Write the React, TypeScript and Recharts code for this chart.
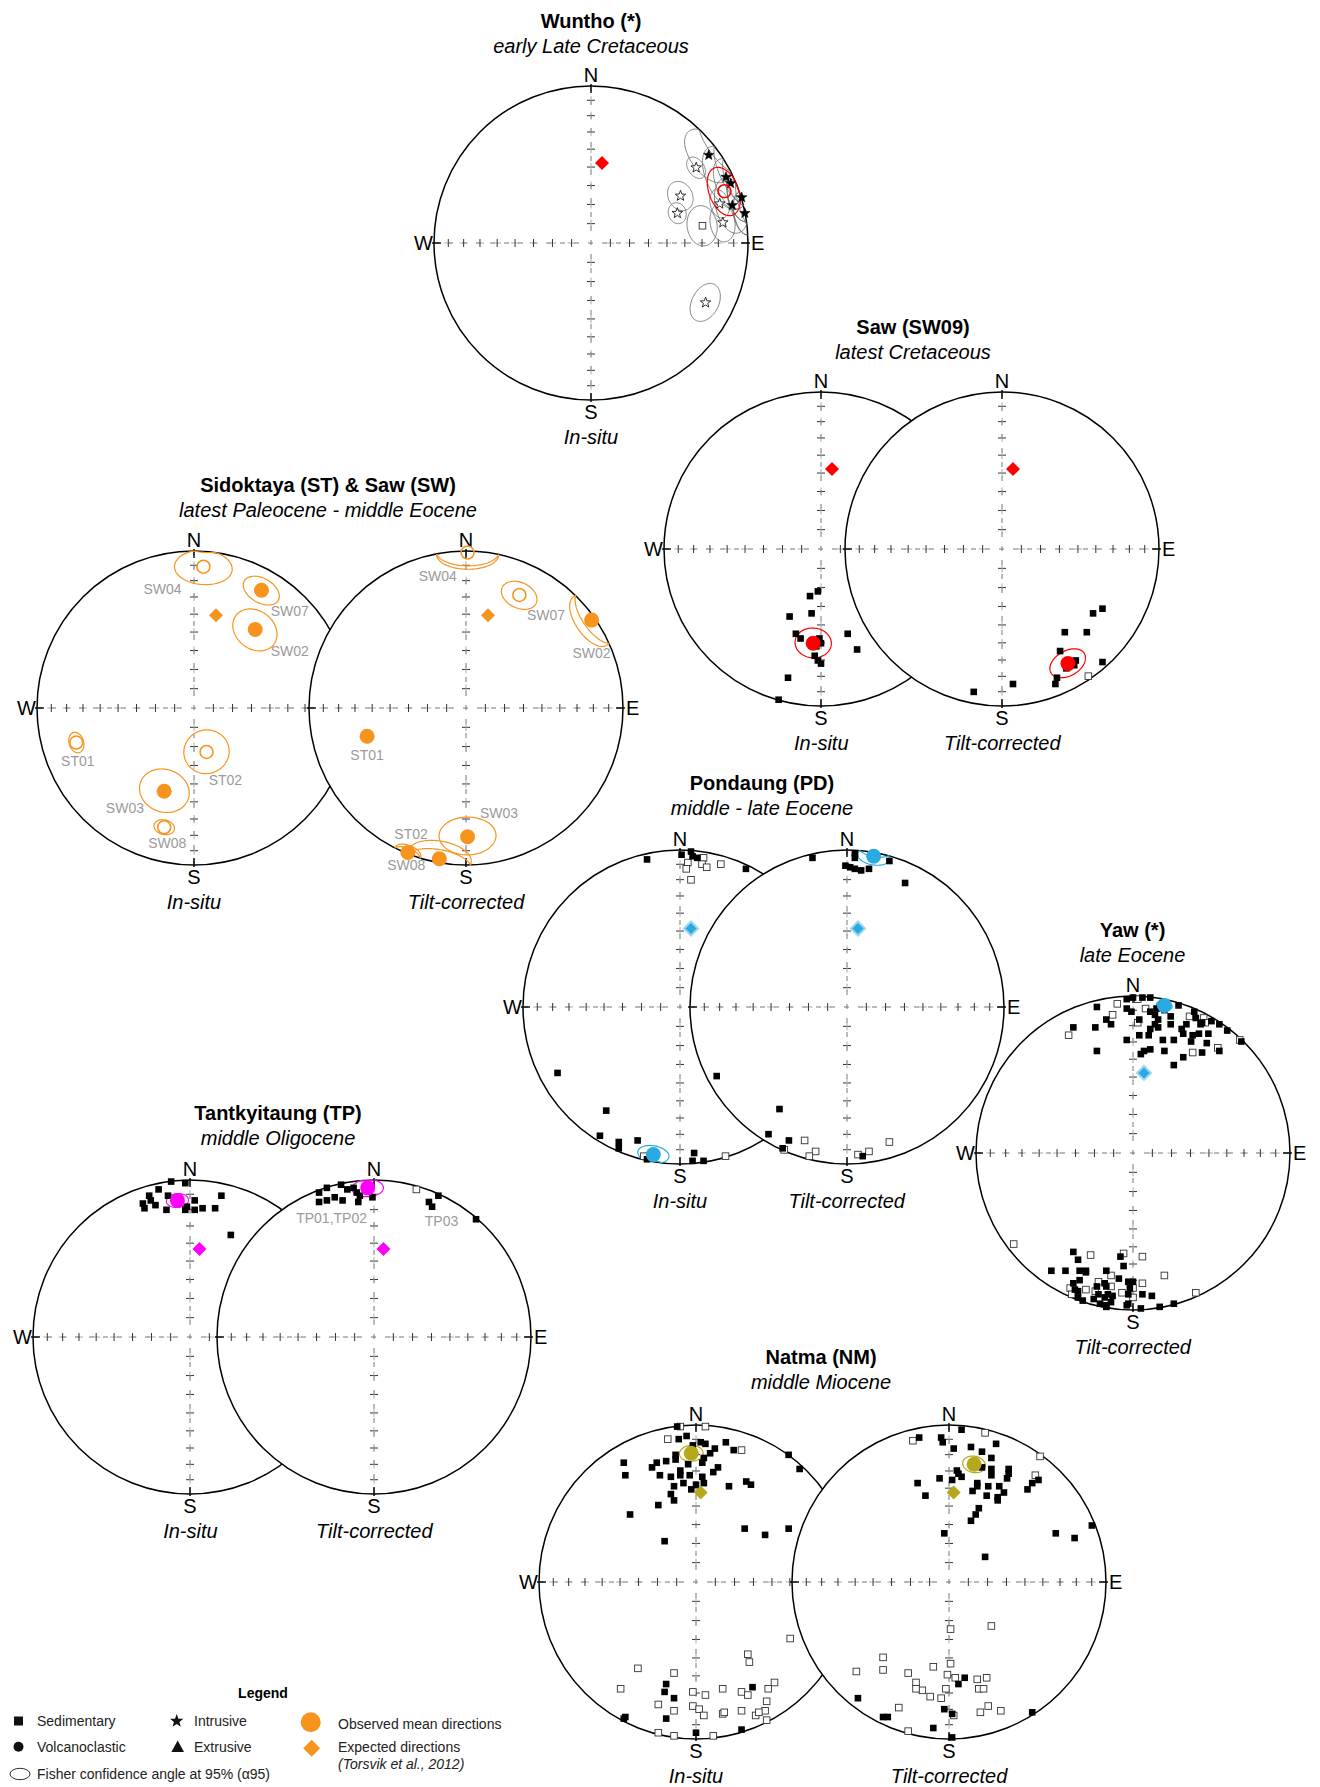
import React from "react";
import { ScatterChart, Scatter, XAxis, YAxis } from "recharts";

// ---------- data (net units: x = east, y = north, rim = 1) ----------
// sites: [x, y, a95], means: [x, y, a95, filled], points: [x, y]

const TICK_INCS = [80, 70, 60, 50, 40, 30, 20, 10];

// Wuntho, in-situ
const WUN_STAR_DOWN = [[0.75, 0.56, 12], [0.86, 0.42, 13], [0.89, 0.38, 10], [0.96, 0.29, 9], [0.9, 0.24, 11], [0.98, 0.19, 8]];
const WUN_STAR_UP = [[0.57, 0.3, 7], [0.55, 0.19, 5], [0.82, 0.25, 6], [0.84, 0.13, 8], [0.73, -0.38, 8.5], [0.67, 0.48, 5]];
const WUN_SQ_UP = [[0.71, 0.11, 9]];
const WUN_MEAN = [[0.85, 0.33, 10, 0]];
const WUN_EXP = [[0.07, 0.51]];

// Saw (SW09)
const SAW_IS_DOWN = [[-0.02, -0.27], [-0.07, -0.3], [-0.06, -0.41], [-0.2, -0.43], [-0.16, -0.54], [-0.13, -0.57], [-0.01, -0.57], [0.0, -0.6], [-0.03, -0.62], [-0.04, -0.68], [-0.02, -0.71], [0.0, -0.73], [0.17, -0.54], [0.23, -0.64], [-0.21, -0.82], [-0.27, -0.96]];
const SAW_IS_MEAN = [[-0.05, -0.6, 8.5, 1]];
const SAW_TC_DOWN = [[0.64, -0.38], [0.58, -0.41], [0.4, -0.53], [0.54, -0.53], [0.37, -0.65], [0.47, -0.71], [0.46, -0.74], [0.41, -0.76], [0.64, -0.72], [0.35, -0.82], [0.34, -0.86], [0.07, -0.86], [-0.18, -0.91]];
const SAW_TC_UP = [[0.55, -0.81]];
const SAW_TC_MEAN = [[0.42, -0.73, 8, 1]];
const SAW_EXP = [[0.07, 0.51]];

// Sidoktaya (ST) & Saw (SW)
const SID_IS_MEANS = [[0.06, 0.9, 11.5, 0], [0.43, 0.75, 8, 1], [0.39, 0.5, 11, 1], [-0.75, -0.22, 4.5, 0], [0.08, -0.28, 11.5, 0], [-0.19, -0.53, 12, 1], [-0.19, -0.76, 4.5, 0]];
const SID_TC_MEANS = [[0.01, 0.99, 11.5, 0], [0.34, 0.72, 8, 0], [0.8, 0.56, 11, 1], [-0.63, -0.18, 3, 1], [0.01, -0.82, 12, 1], [-0.17, -0.96, 12, 1], [-0.37, -0.92, 5, 1]];
const SID_EXP = [[0.14, 0.59]];
const SID_IS_LABELS: [string, number, number][] = [["SW04", -0.2, 0.76], ["SW07", 0.61, 0.62], ["SW02", 0.61, 0.36], ["ST01", -0.74, -0.34], ["ST02", 0.2, -0.46], ["SW03", -0.44, -0.64], ["SW08", -0.17, -0.86]];
const SID_TC_LABELS: [string, number, number][] = [["SW04", -0.18, 0.84], ["SW07", 0.51, 0.59], ["SW02", 0.8, 0.35], ["ST01", -0.63, -0.3], ["SW03", 0.21, -0.67], ["ST02", -0.35, -0.8], ["SW08", -0.38, -1.0]];

// Pondaung (PD)
const PON_IS_DOWN = [[-0.21, 0.94], [0.01, 0.97], [0.07, 0.99], [0.08, 0.96], [0.11, 0.95], [0.42, 0.88], [-0.78, -0.42], [-0.47, -0.66], [-0.51, -0.82], [-0.39, -0.86], [-0.39, -0.9], [-0.27, -0.85], [0.09, -0.93], [0.08, -0.98], [0.15, -0.98], [-0.21, -0.97]];
const PON_IS_UP = [[0.05, 0.92], [0.04, 0.88], [0.15, 0.95], [0.14, 0.91], [0.17, 0.89], [0.26, 0.91], [0.07, 0.81], [-0.23, -0.95], [0.29, -0.95]];
const PON_IS_MEAN = [[-0.17, -0.94, 6, 1]];
const PON_TC_DOWN = [[-0.22, 0.95], [-0.01, 0.9], [0.02, 0.89], [0.05, 0.88], [0.09, 0.87], [0.05, 0.95], [0.05, 0.98], [0.14, 0.88], [0.27, 0.93], [0.37, 0.79], [-0.83, -0.44], [-0.43, -0.65], [-0.5, -0.81], [-0.37, -0.85], [-0.41, -0.9], [0.1, -0.95]];
const PON_TC_UP = [[-0.27, -0.85], [-0.2, -0.92], [-0.24, -0.95], [0.14, -0.92], [0.27, -0.86], [0.07, -0.94], [-0.4, -0.91]];
const PON_TC_MEAN = [[0.17, 0.96, 6, 1]];
const PON_EXP = [[0.07, 0.5]];

// Yaw, tilt-corrected
const YAW_DOWN = [
  [-0.23, 0.93], [-0.24, 0.8], [-0.38, 0.8], [-0.17, 0.85], [-0.14, 0.82], [-0.23, 0.65], [-0.04, 0.72], [-0.04, 0.98], [0.0, 0.99], [0.06, 0.99],
  [0.11, 0.99], [-0.04, 0.92], [-0.01, 0.9], [0.04, 0.85], [0.11, 0.9], [0.14, 0.88], [0.16, 0.85], [0.14, 0.82], [0.11, 0.79], [0.1, 0.75],
  [0.04, 0.75], [0.16, 0.8], [0.19, 0.72], [0.07, 0.65], [0.11, 0.66], [0.05, 0.63], [0.2, 0.65], [0.24, 0.82], [0.26, 0.72], [0.29, 0.94],
  [0.31, 0.79], [0.32, 0.76], [0.38, 0.75], [0.37, 0.71], [0.32, 0.61], [0.26, 0.56], [0.39, 0.9], [0.4, 0.86], [0.43, 0.82], [0.42, 0.76],
  [0.48, 0.76], [0.47, 0.7], [0.44, 0.64], [0.55, 0.65], [0.5, 0.84], [0.55, 0.82], [0.6, 0.78], [0.69, 0.71], [0.24, 0.87], [0.34, 0.82],
  [0.44, 0.83], [0.2, 0.91], [0.15, 0.92],
  [-0.38, -0.63], [-0.35, -0.68], [-0.52, -0.75], [-0.43, -0.75], [-0.34, -0.75], [-0.3, -0.75], [-0.3, -0.76], [-0.34, -0.81], [-0.17, -0.75], [-0.09, -0.8],
  [-0.38, -0.83], [-0.37, -0.87], [-0.35, -0.88], [-0.35, -0.92], [-0.32, -0.94], [-0.23, -0.85], [-0.18, -0.83], [-0.17, -0.85], [-0.22, -0.9], [-0.25, -0.93],
  [-0.21, -0.96], [-0.18, -0.92], [-0.16, -0.9], [-0.14, -0.95], [-0.17, -0.97], [-0.13, -0.91], [-0.03, -0.82], [0.0, -0.82], [-0.02, -0.86], [-0.03, -0.9],
  [-0.03, -0.96], [0.06, -0.9], [0.12, -0.91], [0.05, -0.99], [0.17, -0.98], [0.26, -0.96], [-0.08, -0.66], [-0.06, -0.72], [-0.17, -0.98], [-0.04, -0.97],
];
const YAW_UP = [
  [-0.1, 0.95], [-0.41, 0.75], [-0.13, 0.88], [0.03, 0.98], [0.08, 0.92], [0.03, 0.83], [0.36, 0.87], [0.45, 0.86], [0.46, 0.83], [0.38, 0.64],
  [0.54, 0.67], [0.68, 0.72],
  [-0.76, -0.58], [-0.27, -0.65], [0.06, -0.66], [-0.06, -0.64], [-0.14, -0.78], [-0.22, -0.82], [-0.4, -0.86], [-0.3, -0.87], [-0.24, -0.88],
  [-0.14, -0.85], [-0.07, -0.89], [0.0, -0.86], [0.0, -0.92], [0.06, -0.83], [0.2, -0.78], [0.4, -0.89], [-0.39, -0.9],
];
const YAW_MEAN = [[0.2, 0.94, 3, 1]];
const YAW_EXP = [[0.07, 0.51]];

// Tantkyitaung (TP)
const TAN_IS_DOWN = [[-0.12, 0.99], [-0.03, 0.98], [-0.2, 0.94], [-0.26, 0.9], [-0.25, 0.87], [-0.14, 0.9], [-0.3, 0.85], [-0.29, 0.82], [-0.22, 0.84], [-0.15, 0.81], [-0.1, 0.87], [-0.03, 0.81], [0.03, 0.87], [0.03, 0.81], [0.08, 0.82], [0.16, 0.82], [0.2, 0.9], [0.26, 0.65], [-0.02, 0.83]];
const TAN_IS_MEAN = [[-0.08, 0.87, 4.5, 1]];
const TAN_TC_DOWN = [[-0.35, 0.92], [-0.3, 0.95], [-0.21, 0.97], [-0.17, 0.94], [-0.13, 0.95], [-0.11, 0.92], [-0.35, 0.86], [-0.3, 0.87], [-0.25, 0.89], [-0.2, 0.87], [-0.1, 0.86], [-0.01, 0.89], [0.35, 0.86], [0.37, 0.83], [0.41, 0.9], [0.65, 0.75], [-0.09, 0.9]];
const TAN_TC_UP = [[0.27, 0.94]];
const TAN_TC_MEAN = [[-0.04, 0.95, 6, 1]];
const TAN_EXP = [[0.06, 0.56]];
const TAN_TC_LABELS: [string, number, number][] = [["TP01,TP02", -0.27, 0.76], ["TP03", 0.43, 0.74]];

// Natma (NM)
const NAT_IS_DOWN = [
  [-0.12, 0.99], [-0.11, 0.91], [-0.06, 0.93], [-0.02, 0.87], [0.03, 0.89], [0.06, 0.88], [0.19, 0.89], [0.24, 0.84], [0.12, 0.85], [0.09, 0.82],
  [0.05, 0.79], [0.04, 0.76], [-0.13, 0.81], [-0.13, 0.78], [-0.05, 0.75], [-0.19, 0.77], [-0.25, 0.76], [-0.28, 0.73], [-0.46, 0.76], [-0.45, 0.68],
  [-0.23, 0.68], [-0.16, 0.67], [-0.1, 0.71], [-0.1, 0.68], [-0.04, 0.68], [0.04, 0.67], [0.05, 0.63], [0.0, 0.62], [-0.03, 0.59], [-0.08, 0.63],
  [-0.14, 0.61], [-0.16, 0.56], [-0.14, 0.52], [-0.24, 0.49], [-0.42, 0.43], [0.11, 0.7], [0.14, 0.73], [0.21, 0.61], [0.32, 0.64], [0.35, 0.62],
  [0.59, 0.81], [0.66, 0.72], [0.31, 0.34], [0.44, 0.3], [0.59, 0.34], [-0.2, 0.26],
  [-0.19, -0.65], [-0.2, -0.7], [-0.14, -0.74], [-0.19, -0.87], [0.36, -0.67], [-0.45, -0.86], [-0.46, -0.87], [0.0, -0.96], [0.29, -0.94],
];
const NAT_IS_UP = [
  [-0.18, 0.91], [-0.1, 0.99], [0.06, 0.99], [0.29, 0.84],
  [-0.37, -0.55], [-0.48, -0.68], [-0.14, -0.58], [-0.02, -0.7], [0.06, -0.72], [0.17, -0.68], [0.29, -0.7], [0.33, -0.72], [-0.24, -0.78], [-0.14, -0.82],
  [-0.02, -0.79], [0.02, -0.81], [0.05, -0.85], [0.17, -0.84], [0.18, -0.83], [0.29, -0.82], [0.38, -0.85], [0.44, -0.82], [0.45, -0.76], [0.4, -0.83],
  [0.45, -0.88], [0.33, -0.46], [0.34, -0.51], [0.5, -0.64], [0.46, -0.68], [0.6, -0.36], [-0.24, -0.96], [-0.14, -0.98], [0.11, -0.98],
];
const NAT_IS_MEAN = [[-0.03, 0.82, 5, 1]];
const NAT_IS_EXP = [[0.03, 0.57]];
const NAT_TC_DOWN = [
  [-0.19, 0.92], [-0.05, 0.92], [-0.04, 0.89], [0.08, 0.97], [0.03, 0.85], [0.14, 0.86], [0.21, 0.83], [0.3, 0.88], [0.05, 0.71], [0.06, 0.69],
  [0.08, 0.67], [-0.06, 0.66], [0.02, 0.65], [-0.2, 0.63], [-0.15, 0.55], [0.15, 0.58], [0.21, 0.73], [0.27, 0.79], [0.27, 0.72], [0.27, 0.68],
  [0.18, 0.63], [0.18, 0.61], [0.25, 0.61], [0.24, 0.55], [0.32, 0.61], [0.35, 0.57], [0.31, 0.54], [0.31, 0.52], [0.38, 0.72], [0.38, 0.69],
  [0.37, 0.66], [0.5, 0.59], [0.53, 0.63], [0.57, 0.65], [0.19, 0.47], [0.17, 0.43], [0.14, 0.39], [-0.03, 0.31], [0.23, 0.16], [0.68, 0.31],
  [0.8, 0.28], [0.91, 0.36],
  [0.1, -0.61], [0.06, -0.65], [-0.58, -0.74], [-0.42, -0.86], [-0.39, -0.86], [-0.03, -0.81], [0.02, -0.84], [-0.1, -0.93], [0.02, -0.99], [0.53, -0.83],
];
const NAT_TC_UP = [
  [-0.23, 0.9], [0.23, 0.95], [0.58, 0.8], [0.55, 0.68],
  [0.01, -0.3], [0.27, -0.28], [-0.42, -0.48], [-0.42, -0.56], [-0.59, -0.57], [-0.26, -0.58], [-0.1, -0.54], [0.01, -0.52], [-0.01, -0.59], [0.04, -0.61],
  [0.18, -0.62], [0.24, -0.61], [-0.21, -0.64], [-0.17, -0.69], [-0.21, -0.68], [-0.12, -0.73], [-0.02, -0.68], [-0.05, -0.74], [0.19, -0.68], [0.22, -0.68],
  [-0.32, -0.8], [0.25, -0.79], [0.2, -0.83], [0.33, -0.82], [0.03, -0.85], [-0.26, -0.95],
];
const NAT_TC_MEAN = [[0.16, 0.75, 5, 1]];
const NAT_TC_EXP = [[0.03, 0.57]];

// ---------- styling ----------
const FONT = '"Liberation Sans", Arial, Helvetica, sans-serif';
const R = 157;
const PAD = 36;
const RED = "#ff0000";
const ORANGE = "#f7941d";
const BLUE = "#29abe2";
const MAGENTA = "#ff00ff";
const OLIVE = "#b5a81d";
const D2R = Math.PI / 180;

const eaRadius = (inc: number) => Math.SQRT2 * Math.sin(((90 - inc) * D2R) / 2);

const TICK_DATA = TICK_INCS.flatMap((inc) => {
  const r = eaRadius(inc);
  return [
    { x: 0, y: r, v: 1 },
    { x: 0, y: -r, v: 1 },
    { x: r, y: 0, v: 0 },
    { x: -r, y: 0, v: 0 },
  ];
});

// projected a95 small circle around (x, y), in pixels around (cx, cy)
function conePath(x: number, y: number, a95: number, cx: number, cy: number) {
  const r = Math.min(Math.hypot(x, y), 1);
  const p = 2 * Math.asin(r / Math.SQRT2);
  const dec = Math.atan2(x, y);
  const v = [Math.sin(p) * Math.cos(dec), Math.sin(p) * Math.sin(dec), Math.cos(p)];
  const u1 = [Math.cos(p) * Math.cos(dec), Math.cos(p) * Math.sin(dec), -Math.sin(p)];
  const u2 = [-Math.sin(dec), Math.cos(dec), 0];
  const a = a95 * D2R;
  let d = "";
  for (let k = 0; k <= 90; k++) {
    const th = (k / 90) * 2 * Math.PI;
    const w = [0, 1, 2].map((i) => Math.cos(a) * v[i] + Math.sin(a) * (Math.cos(th) * u1[i] + Math.sin(th) * u2[i]));
    const pp = Math.acos(Math.min(1, Math.abs(w[2])));
    const dd = Math.atan2(w[1], w[0]);
    const rr = Math.SQRT2 * Math.sin(pp / 2);
    const X = rr * Math.sin(dd);
    const Y = rr * Math.cos(dd);
    d += (k ? "L" : "M") + (cx + (X - x) * R).toFixed(2) + "," + (cy - (Y - y) * R).toFixed(2);
  }
  return d;
}

function starPath(cx: number, cy: number, ro: number, ri: number) {
  let d = "";
  for (let i = 0; i < 10; i++) {
    const rr = i % 2 ? ri : ro;
    const a = -Math.PI / 2 + (i * Math.PI) / 5;
    d += (i ? "L" : "M") + (cx + rr * Math.cos(a)).toFixed(2) + "," + (cy + rr * Math.sin(a)).toFixed(2);
  }
  return d + "Z";
}

const toPts = (a?: number[][]) => (a || []).map(([x, y, a95 = 0, f = 1]) => ({ x, y, a95, f }));

const frameShape = (compass: string) => (props: any) => {
  const { cx, cy } = props;
  const letter = (l: string, x: number, y: number, anchor: string) => (
    <text x={x} y={y} textAnchor={anchor} fontSize={20} fontFamily={FONT} fill="#000">
      {l}
    </text>
  );
  return (
    <g>
      <circle cx={cx} cy={cy} r={R} fill="#fff" stroke="#000" strokeWidth={1.5} />
      <line x1={cx - R} y1={cy} x2={cx + R} y2={cy} stroke="#777" strokeWidth={1} strokeDasharray="5 9" />
      <line x1={cx} y1={cy - R} x2={cx} y2={cy + R} stroke="#777" strokeWidth={1} strokeDasharray="5 9" />
      <g stroke="#000" strokeWidth={1.4}>
        <line x1={cx} y1={cy - R - 2} x2={cx} y2={cy - R + 7} />
        <line x1={cx} y1={cy + R + 2} x2={cx} y2={cy + R - 7} />
        <line x1={cx - R - 2} y1={cy} x2={cx - R + 7} y2={cy} />
        <line x1={cx + R + 2} y1={cy} x2={cx + R - 7} y2={cy} />
      </g>
      {compass.includes("N") && letter("N", cx, cy - R - 4, "middle")}
      {compass.includes("S") && letter("S", cx, cy + R + 19, "middle")}
      {compass.includes("W") && letter("W", cx - R - 1, cy + 7, "end")}
      {compass.includes("E") && letter("E", cx + R + 3, cy + 7, "start")}
    </g>
  );
};

const tickShape = (props: any) => {
  const { cx, cy, payload } = props;
  const h = 4;
  return (
    <g strokeWidth={1}>
      <line x1={cx - h} y1={cy} x2={cx + h} y2={cy} stroke={payload.v ? "#333" : "#aaa"} />
      <line x1={cx} y1={cy - h} x2={cx} y2={cy + h} stroke={payload.v ? "#aaa" : "#333"} />
    </g>
  );
};

const squareShape = (filled: boolean) => (props: any) => (
  <rect x={props.cx - 3.3} y={props.cy - 3.3} width={6.6} height={6.6} fill={filled ? "#000" : "#fff"} stroke={filled ? "none" : "#333"} strokeWidth={0.9} />
);

const starShape = (filled: boolean) => (props: any) => (
  <path d={starPath(props.cx, props.cy, 5.5, 2.3)} fill={filled ? "#000" : "#fff"} stroke="#000" strokeWidth={filled ? 0.5 : 0.8} />
);

const coneShape = (color: string, width: number) => (props: any) => (
  <path d={conePath(props.payload.x, props.payload.y, props.payload.a95, props.cx, props.cy)} fill="none" stroke={color} strokeWidth={width} />
);

const meanShape = (color: string) => (props: any) =>
  props.payload.f ? (
    <circle cx={props.cx} cy={props.cy} r={7.5} fill={color} />
  ) : (
    <circle cx={props.cx} cy={props.cy} r={6.5} fill="none" stroke={color} strokeWidth={1.6} />
  );

const diamondShape = (color: string, ring?: string) => (props: any) => {
  const { cx, cy } = props;
  const s = 7;
  return (
    <path
      d={`M${cx},${cy - s}L${cx + s},${cy}L${cx},${cy + s}L${cx - s},${cy}Z`}
      fill={color}
      stroke={ring || "none"}
      strokeWidth={ring ? 2 : 0}
    />
  );
};

const labelShape = (props: any) => (
  <text x={props.cx} y={props.cy} textAnchor="middle" dominantBaseline="central" fontSize={14} fontFamily={FONT} fill="#9a9a9a">
    {props.payload.t}
  </text>
);

type NetProps = {
  cx: number;
  cy: number;
  compass: string;
  caption: string;
  color: string;
  down?: number[][];
  up?: number[][];
  starDown?: number[][];
  starUp?: number[][];
  siteUp?: number[][];
  means?: number[][];
  expected?: number[][];
  ring?: string;
  labels?: [string, number, number][];
};

function Net(p: NetProps) {
  const size = 2 * R + 2 * PAD;
  const sites = [...toPts(p.starDown), ...toPts(p.starUp), ...toPts(p.siteUp)];
  const means = toPts(p.means);
  const labels = (p.labels || []).map(([t, x, y]) => ({ t, x, y }));
  return (
    <>
      <div style={{ position: "absolute", left: p.cx - R - PAD, top: p.cy - R - PAD }}>
        <ScatterChart width={size} height={size} margin={{ top: PAD, right: PAD, bottom: PAD, left: PAD }}>
          <XAxis type="number" dataKey="x" domain={[-1, 1]} hide />
          <YAxis type="number" dataKey="y" domain={[-1, 1]} hide />
          <Scatter data={[{ x: 0, y: 0 }]} shape={frameShape(p.compass)} isAnimationActive={false} />
          <Scatter data={TICK_DATA} shape={tickShape} isAnimationActive={false} />
          {sites.length > 0 && <Scatter data={sites} shape={coneShape("#666", 0.8)} isAnimationActive={false} />}
          {means.length > 0 && <Scatter data={means} shape={coneShape(p.color, 1.2)} isAnimationActive={false} />}
          {p.up && <Scatter data={toPts(p.up)} shape={squareShape(false)} isAnimationActive={false} />}
          {p.down && <Scatter data={toPts(p.down)} shape={squareShape(true)} isAnimationActive={false} />}
          {p.siteUp && <Scatter data={toPts(p.siteUp)} shape={squareShape(false)} isAnimationActive={false} />}
          {p.starUp && <Scatter data={toPts(p.starUp)} shape={starShape(false)} isAnimationActive={false} />}
          {p.starDown && <Scatter data={toPts(p.starDown)} shape={starShape(true)} isAnimationActive={false} />}
          {p.expected && <Scatter data={toPts(p.expected)} shape={diamondShape(p.color, p.ring)} isAnimationActive={false} />}
          {means.length > 0 && <Scatter data={means} shape={meanShape(p.color)} isAnimationActive={false} />}
          {labels.length > 0 && <Scatter data={labels} shape={labelShape} isAnimationActive={false} />}
        </ScatterChart>
      </div>
      <Txt x={p.cx} y={p.cy + R + 37} italic>
        {p.caption}
      </Txt>
    </>
  );
}

function Txt(props: { x: number; y: number; bold?: boolean; italic?: boolean; children: React.ReactNode }) {
  return (
    <div
      style={{
        position: "absolute",
        left: props.x,
        top: props.y,
        transform: "translate(-50%, -50%)",
        whiteSpace: "nowrap",
        fontFamily: FONT,
        fontSize: 20,
        lineHeight: 1,
        fontWeight: props.bold ? 700 : 400,
        fontStyle: props.italic ? "italic" : "normal",
        color: "#000",
      }}
    >
      {props.children}
    </div>
  );
}

function Title({ x, y, title, sub }: { x: number; y: number; title: string; sub: string }) {
  return (
    <>
      <Txt x={x} y={y} bold>
        {title}
      </Txt>
      <Txt x={x} y={y + 25} italic>
        {sub}
      </Txt>
    </>
  );
}

function LegendBox() {
  const t = { fontSize: 14, fill: "#222", fontFamily: FONT };
  return (
    <svg width={520} height={107} style={{ position: "absolute", left: 0, top: 1680 }}>
      <text x={263} y={18} textAnchor="middle" fontWeight={700} {...t} fill="#000">
        Legend
      </text>
      <rect x={14} y={36.5} width={9} height={9} fill="#111" />
      <text x={37} y={46} {...t}>Sedimentary</text>
      <circle cx={18.5} cy={66.7} r={5} fill="#111" />
      <text x={37} y={72} {...t}>Volcanoclastic</text>
      <ellipse cx={20} cy={94} rx={10} ry={5.7} fill="none" stroke="#333" strokeWidth={1} />
      <text x={37} y={98.5} {...t}>Fisher confidence angle at 95% (α95)</text>
      <path d={starPath(176.7, 41, 7, 2.9)} fill="#111" />
      <text x={194} y={46} {...t}>Intrusive</text>
      <path d="M177.7,60.5L184,72L171.4,72Z" fill="#111" />
      <text x={194} y={72} {...t}>Extrusive</text>
      <circle cx={310.7} cy={42.3} r={10} fill={ORANGE} />
      <text x={338} y={48.5} {...t}>Observed mean directions</text>
      <path d="M311.7,59.8L320.2,68.3L311.7,76.8L303.2,68.3Z" fill={ORANGE} />
      <text x={338} y={72} {...t}>Expected directions</text>
      <text x={338} y={88.5} {...t} fontStyle="italic">(Torsvik et al., 2012)</text>
    </svg>
  );
}

export default function App() {
  return (
    <div style={{ position: "absolute", left: 0, top: 0, width: 1320, height: 1787, background: "#fff", overflow: "hidden" }}>
      <Title x={591} y={20.5} title="Wuntho (*)" sub="early Late Cretaceous" />
      <Net cx={591} cy={243.3} compass="NSWE" caption="In-situ" color={RED} starDown={WUN_STAR_DOWN} starUp={WUN_STAR_UP} siteUp={WUN_SQ_UP} means={WUN_MEAN} expected={WUN_EXP} />

      <Title x={913} y={326.7} title="Saw (SW09)" sub="latest Cretaceous" />
      <Net cx={821.3} cy={549.3} compass="NSW" caption="In-situ" color={RED} down={SAW_IS_DOWN} means={SAW_IS_MEAN} expected={SAW_EXP} />
      <Net cx={1002.3} cy={549.3} compass="NSE" caption="Tilt-corrected" color={RED} down={SAW_TC_DOWN} up={SAW_TC_UP} means={SAW_TC_MEAN} expected={SAW_EXP} />

      <Title x={328} y={485} title="Sidoktaya (ST) & Saw (SW)" sub="latest Paleocene - middle Eocene" />
      <Net cx={194} cy={708.3} compass="NSW" caption="In-situ" color={ORANGE} means={SID_IS_MEANS} expected={SID_EXP} labels={SID_IS_LABELS} />
      <Net cx={466} cy={708.3} compass="NSE" caption="Tilt-corrected" color={ORANGE} means={SID_TC_MEANS} expected={SID_EXP} labels={SID_TC_LABELS} />

      <Title x={762} y={783.3} title="Pondaung (PD)" sub="middle - late Eocene" />
      <Net cx={680} cy={1006.7} compass="NSW" caption="In-situ" color={BLUE} ring="#9ad8f2" down={PON_IS_DOWN} up={PON_IS_UP} means={PON_IS_MEAN} expected={PON_EXP} />
      <Net cx={846.7} cy={1006.7} compass="NSE" caption="Tilt-corrected" color={BLUE} ring="#9ad8f2" down={PON_TC_DOWN} up={PON_TC_UP} means={PON_TC_MEAN} expected={PON_EXP} />

      <Title x={1132.5} y={930} title="Yaw (*)" sub="late Eocene" />
      <Net cx={1132.7} cy={1153.3} compass="NSWE" caption="Tilt-corrected" color={BLUE} ring="#9ad8f2" down={YAW_DOWN} up={YAW_UP} means={YAW_MEAN} expected={YAW_EXP} />

      <Title x={278} y={1113.3} title="Tantkyitaung (TP)" sub="middle Oligocene" />
      <Net cx={190.4} cy={1336.7} compass="NSW" caption="In-situ" color={MAGENTA} down={TAN_IS_DOWN} means={TAN_IS_MEAN} expected={TAN_EXP} />
      <Net cx={374.3} cy={1336.7} compass="NSE" caption="Tilt-corrected" color={MAGENTA} down={TAN_TC_DOWN} up={TAN_TC_UP} means={TAN_TC_MEAN} expected={TAN_EXP} labels={TAN_TC_LABELS} />

      <Title x={821} y={1356.7} title="Natma (NM)" sub="middle Miocene" />
      <Net cx={696} cy={1581.7} compass="NSW" caption="In-situ" color={OLIVE} down={NAT_IS_DOWN} up={NAT_IS_UP} means={NAT_IS_MEAN} expected={NAT_IS_EXP} />
      <Net cx={949.1} cy={1581.7} compass="NSE" caption="Tilt-corrected" color={OLIVE} down={NAT_TC_DOWN} up={NAT_TC_UP} means={NAT_TC_MEAN} expected={NAT_TC_EXP} />

      <LegendBox />
    </div>
  );
}
